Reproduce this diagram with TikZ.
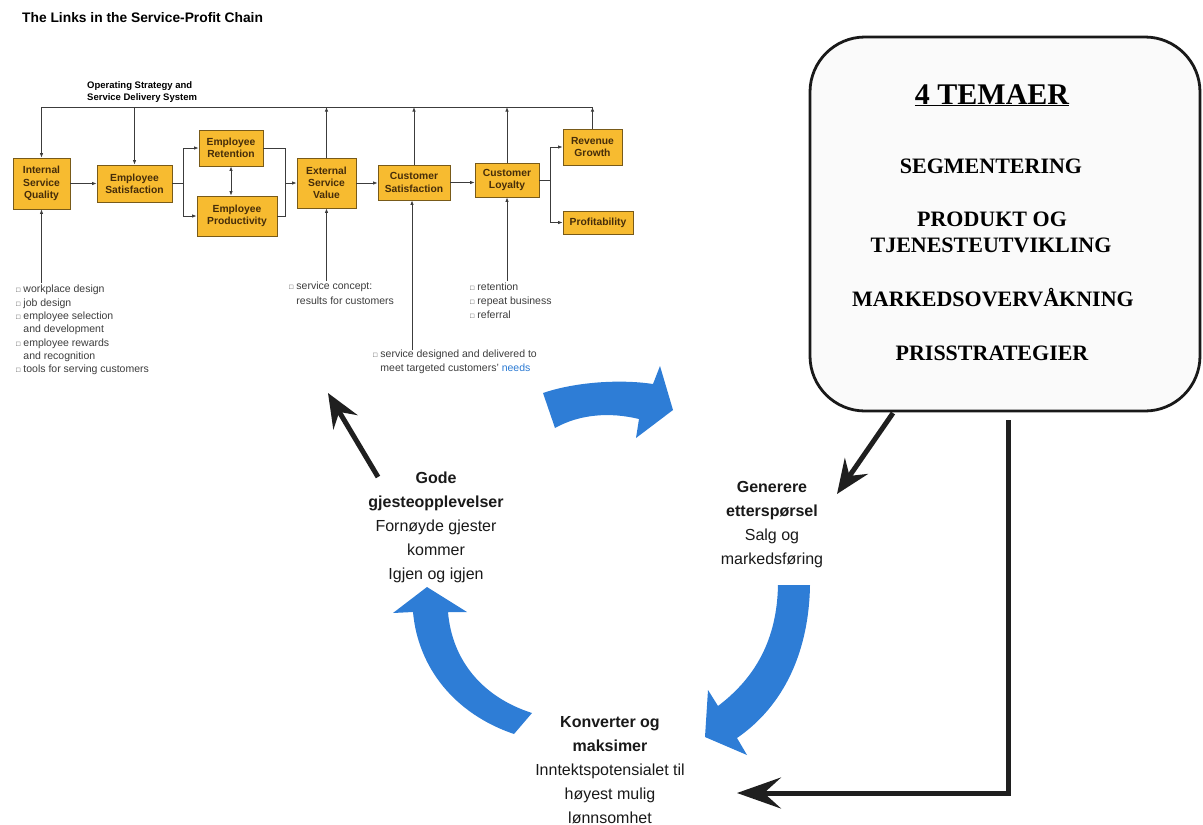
\documentclass[tikz,border=0pt]{standalone}
\usepackage{fontspec}
\setmainfont{Liberation Sans}
\newfontfamily\serifb{Liberation Serif}
\usetikzlibrary{arrows.meta,shadows,calc}
\definecolor{boxfill}{RGB}{247,187,48}
\definecolor{boxline}{RGB}{120,90,25}
\definecolor{boxtext}{RGB}{70,45,10}
\definecolor{linec}{RGB}{60,60,60}
\definecolor{bluea}{RGB}{46,125,214}
\definecolor{needsc}{RGB}{40,120,210}
\newcommand\bx{{\fontsize{7}{7}\selectfont □}\hspace{3pt}}
\begin{document}
\begin{tikzpicture}[x=1pt,y=-1pt,
  chainbox/.style={draw=boxline, line width=0.8pt, fill=boxfill, text=boxtext,
    font=\fontsize{10.3}{12.3}\selectfont\bfseries, align=center, inner sep=0pt,
    drop shadow={shadow xshift=1.3pt,shadow yshift=-1.3pt,fill=black,opacity=0.35}},
  cline/.style={draw=linec, line width=0.8pt},
  carr/.style={cline, -{Latex[length=4.5pt,width=3.5pt]}},
  carrb/.style={cline, {Latex[length=4.5pt,width=3.5pt]}-{Latex[length=4.5pt,width=3.5pt]}},
  listtext/.style={font=\fontsize{10.5}{13.3}\selectfont, text=linec, align=left, inner sep=0pt, anchor=north west},
  bigtext/.style={font=\fontsize{16}{24}\selectfont, align=center, inner sep=0pt, text=black!90},
  temaf/.style={font=\serifb\bfseries\fontsize{22}{26}\selectfont, inner sep=0pt, anchor=base},
  bigarr/.style={line width=5pt, draw=black!88, -{Stealth[length=34pt,width=28pt,inset=12pt]}},
  bigarrh/.style={line width=5pt, draw=black!88, line join=miter, -{Stealth[length=44pt,width=31pt,inset=17pt]}},
  bluefill/.style={fill=bluea}
]
\useasboundingbox (0,0) rectangle (1203,825);

% title
\node[anchor=west, inner sep=0pt, font=\fontsize{13.8}{15}\selectfont\bfseries] (title) at (22,18) {The Links in the Service-Profit Chain};
\node[anchor=north west, inner sep=0pt, align=left, font=\fontsize{9.5}{12}\selectfont\bfseries] (ops) at (87,81) {Operating Strategy and\\Service Delivery System};

% chain boxes
\node[chainbox, minimum width=57pt, minimum height=51pt] (isq) at (41.5,183.5) {Internal\\Service\\Quality};
\node[chainbox, minimum width=75pt, minimum height=37pt] (es) at (134.5,183.5) {Employee\\Satisfaction};
\node[chainbox, minimum width=64pt, minimum height=36pt] (er) at (231,148) {Employee\\Retention};
\node[chainbox, minimum width=80pt, minimum height=40pt] (ep) at (237,216) {Employee\\Productivity};
\node[chainbox, minimum width=59pt, minimum height=50pt] (esv) at (326.5,183) {External\\Service\\Value};
\node[chainbox, minimum width=72pt, minimum height=35pt] (cs) at (414,182.5) {Customer\\Satisfaction};
\node[chainbox, minimum width=64pt, minimum height=34pt] (cl) at (507,180) {Customer\\Loyalty};
\node[chainbox, minimum width=59pt, minimum height=36pt] (rg) at (592.5,147) {Revenue\\Growth};
\node[chainbox, minimum width=70pt, minimum height=23pt] (pr) at (598,222.5) {Profitability};

% top feedback line
\coordinate (tl) at (41.5,107);
\coordinate (tr) at (592.5,107);
\draw[cline] (tl) -- (tr);
\draw[carr] (tl) -- (isq.north);
\draw[carr] (es.north |- tl) -- (es.north);
\draw[carr] (esv.north) -- (esv.north |- tl);
\draw[carr] (cs.north) -- (cs.north |- tl);
\draw[carr] (cl.north) -- (cl.north |- tl);
\draw[carr] (rg.north) -- (tr);

% flow connectors
\draw[carr] (isq.east) -- (es.west |- isq.east);
\draw[cline] (es.east) -- ++(11,0) coordinate (s1);
\draw[carr] (s1) |- (er.west);
\draw[carr] (s1) |- (ep.west);
\draw[carrb] (er.south) -- (er.south |- ep.north);
\coordinate (mx) at (285,183);
\draw[cline] (er.east) -| (mx);
\draw[cline] (ep.east) -| (mx);
\draw[carr] (mx) -- (esv.west |- mx);
\draw[carr] (esv.east) -- (cs.west |- esv.east);
\draw[carr] (cs.east) -- (cl.west |- cs.east);
\draw[cline] (cl.east) -- ++(11,0) coordinate (s2);
\draw[carr] (s2) |- (rg.west);
\draw[carr] (s2) |- (pr.west);

% bottom inputs
\coordinate (isqb) at (41.5,283);
\coordinate (esvb) at (326.5,281);
\coordinate (csb) at (412,350);
\coordinate (clb) at (507,281);
\draw[carr] (isqb) -- (isq.south);
\draw[carr] (esvb) -- (esv.south);
\draw[carr] (csb) -- (csb |- cs.south);
\draw[carr] (clb) -- (cl.south);

% lists
\node[listtext] (l1) at (16,285) {\bx workplace design\\\bx job design\\\bx employee selection\\\phantom{\bx}and development\\\bx employee rewards\\\phantom{\bx}and recognition\\\bx tools for serving customers};
\node[listtext, font=\fontsize{10.5}{15}\selectfont] (l2) at (289,282) {\bx service concept:\\\phantom{\bx}results for customers};
\node[listtext, font=\fontsize{10.5}{14}\selectfont] (l3) at (470,283) {\bx retention\\\bx repeat business\\\bx referral};
\node[listtext, font=\fontsize{10.5}{14}\selectfont] (l4) at (373,350) {\bx service designed and delivered to\\\phantom{\bx}meet targeted customers' {\color{needsc}needs}};

% right box
\node[draw=black!90, line width=2.8pt, rounded corners=55pt, fill=gray!4, minimum width=390pt, minimum height=374pt] (temaer) at (1005,224) {};
\node[temaf, font=\serifb\bfseries\fontsize{30}{30}\selectfont] (t0) at (992,104) {\underline{4 TEMAER}};
\node[temaf] (t1) at (991,173) {SEGMENTERING};
\node[temaf] (t2) at (992,226) {PRODUKT OG};
\node[temaf] (t3) at (991,252) {TJENESTEUTVIKLING};
\node[temaf] (t4) at (993,306) {MARKEDSOVERVÅKNING};
\node[temaf] (t5) at (992,360) {PRISSTRATEGIER};

% cycle texts
\node[bigtext] (gode) at (436,527) {\textbf{Gode}\\\textbf{gjesteopplevelser}\\Fornøyde gjester\\kommer\\Igjen og igjen};
\node[bigtext] (gen) at (772,525) {\textbf{Generere}\\\textbf{etterspørsel}\\Salg og\\markedsføring};
\node[bigtext] (konv) at (610,770) {\textbf{Konverter og}\\\textbf{maksimer}\\Inntektspotensialet til\\høyest mulig\\lønnsomhet};

% black arrows
\coordinate (a1s) at (378,477);
\coordinate (a1e) at (328,393);
\draw[bigarr] (a1s) -- (a1e);
\coordinate (a2s) at (893,413);
\coordinate (a2e) at (837,494);
\draw[bigarr] (a2s) -- (a2e);
\coordinate (a3s) at (1008,420);
\coordinate (a3e) at (737,793);
\draw[bigarrh] (a3s) |- (a3e);

% blue curved arrows
\fill[bluefill] (543,393) .. controls (575,382) and (620,379) .. (653,384) -- (660,366) -- (673,410) -- (636,438) -- (639,419) .. controls (610,412) and (580,414) .. (555,428) -- cycle;
\fill[bluefill] (778,585) -- (810,585) .. controls (809,650) and (785,705) .. (737,738) -- (747,755) -- (705,737) -- (708,690) -- (718,706) .. controls (755,678) and (777,640) .. (778,585) -- cycle;
\fill[bluefill] (413,612) -- (393,613) -- (427,587) -- (467,612) -- (448,612) .. controls (452,660) and (482,697) .. (532,713) -- (514,734) .. controls (455,714) and (418,668) .. (413,612) -- cycle;
\end{tikzpicture}
\end{document}
